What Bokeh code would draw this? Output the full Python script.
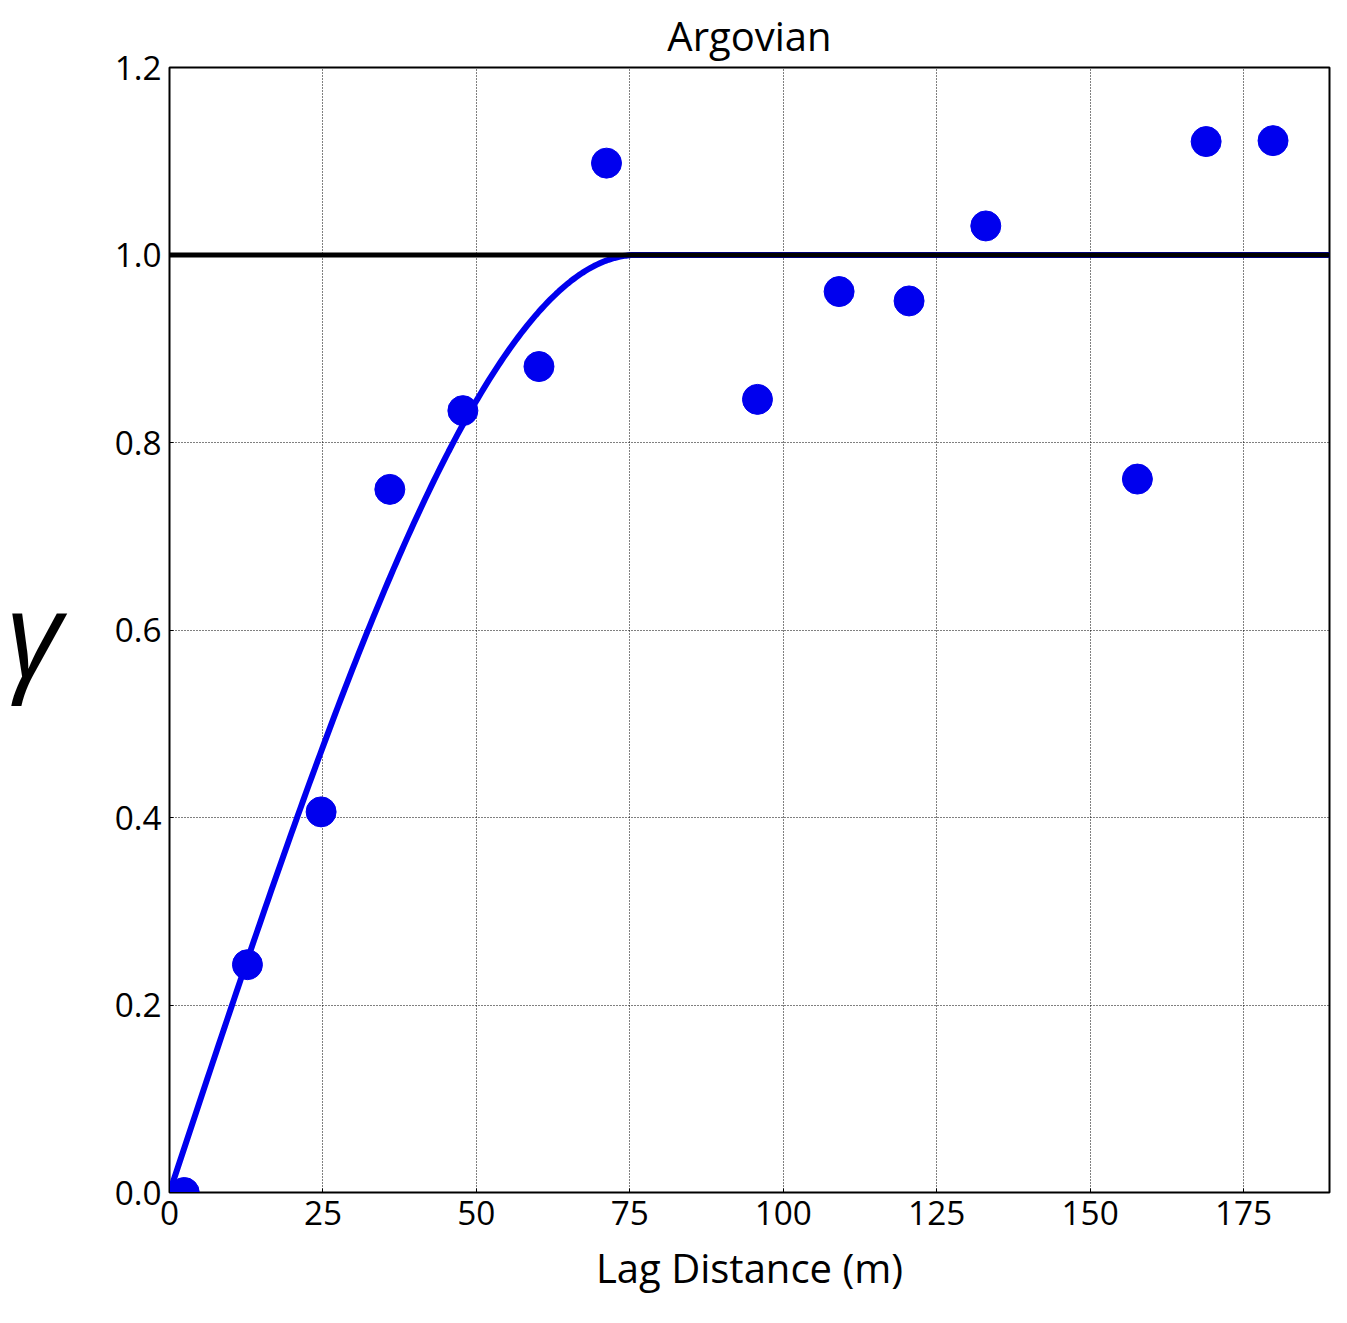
from bokeh.plotting import figure
from bokeh.models import Span, FixedTicker, NumeralTickFormatter
from bokeh.embed import file_html
from bokeh.resources import INLINE
import numpy as np

lag = [2.4, 12.7, 24.7, 35.9, 47.8, 60.2, 71.2, 95.8, 109.1, 120.5, 133.0, 157.7, 168.9, 179.8]
gamma = [0.0, 0.243, 0.406, 0.75, 0.834, 0.881, 1.098, 0.846, 0.961, 0.951, 1.031, 0.761, 1.121, 1.122]

# spherical model parameters
sill = 1.0
model_range = 76.0

h = np.linspace(0, 189, 400)
hr = np.minimum(h / model_range, 1.0)
model = sill * (1.5 * hr - 0.5 * hr ** 3)

font = "Open Sans"
p = figure(width=1331, height=1307, x_range=(0, 189), y_range=(0, 1.2),
           output_backend="svg", toolbar_location=None,
           min_border_left=169, min_border_right=2, min_border_top=8, min_border_bottom=115)
p.title.text = "Argovian"
p.title.align = "center"
p.title.text_font = font
p.title.text_font_size = "30pt"
p.title.text_font_style = "normal"
p.title.text_color = "black"

p.line(h, model, line_color="#0000ee", line_width=6)
p.add_layout(Span(location=1.0, dimension="width", line_color="black", line_width=5))
p.scatter(lag, gamma, size=30, fill_color="#0000ee", line_color="#0000ee")

p.xaxis.axis_label = "Lag Distance (m)"
p.yaxis.axis_label = "γ"
p.xaxis.ticker = FixedTicker(ticks=[0, 25, 50, 75, 100, 125, 150, 175])
p.yaxis.ticker = FixedTicker(ticks=[0, 0.2, 0.4, 0.6, 0.8, 1.0, 1.2])
p.yaxis.formatter = NumeralTickFormatter(format="0.0")
p.yaxis.major_label_orientation = "horizontal"
p.yaxis.axis_label_orientation = "horizontal"
for ax in (p.xaxis, p.yaxis):
    ax.axis_label_text_font = font
    ax.axis_label_text_font_style = "normal"
    ax.axis_label_text_color = "black"
    ax.major_label_text_font = font
    ax.major_label_text_font_size = "25pt"
    ax.major_label_text_color = "black"
    ax.major_label_standoff = 8
    ax.major_tick_out = 0
    ax.major_tick_in = 4
    ax.minor_tick_out = 0
    ax.minor_tick_in = 0
    ax.axis_line_color = "black"
p.xaxis.axis_label_text_font_size = "30pt"
p.xaxis.axis_label_standoff = 12
p.yaxis.axis_label_text_font_size = "90pt"
p.yaxis.axis_label_text_font_style = "italic"
p.yaxis.axis_label_standoff = 50

p.grid.grid_line_color = "black"
p.grid.grid_line_dash = "1 2"
p.grid.grid_line_width = 1
p.outline_line_color = "black"
p.outline_line_width = 2

open("out.html", "w").write(file_html(p, INLINE))
